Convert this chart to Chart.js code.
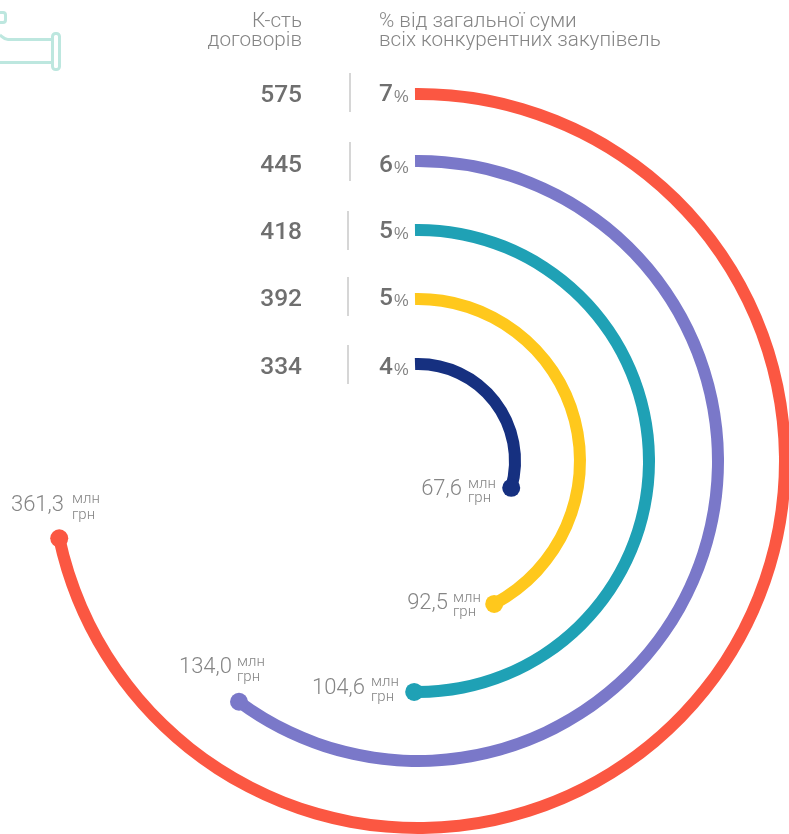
<!DOCTYPE html>
<html lang="uk"><head><meta charset="utf-8">
<script src="https://cdn.jsdelivr.net/npm/chart.js@4"></script>
<style>
html,body{margin:0;padding:0;background:#fff;overflow:hidden}
#wrap{position:relative;width:789px;height:834px;overflow:hidden}
canvas{position:absolute;left:0;top:0}
.t{position:absolute;white-space:nowrap;line-height:1;color:#858585;font-family:Roboto,"Liberation Sans",sans-serif;font-weight:300}
.b{font-weight:500;color:#6f6f6f}
.p{font-family:"Liberation Sans",sans-serif;font-weight:400;color:#858585}
.sep{position:absolute;width:2px;background:#d6d6d6}
svg{position:absolute;left:0;top:0}
</style></head><body>
<div id="wrap">
<svg width="70" height="80" fill="none" stroke="#bde7df" stroke-width="3">
<path d="M0 12.500H3a2.500 2.500 0 0 1 2.500 2.500V20A2.500 2.500 0 0 1 3 22.500H0"/>
<path d="M0 35C3 37 3.500 39.500 8 39.500H52M0 62.500H52"/>
<rect x="52.500" y="33.500" width="7" height="36" rx="3"/>
</svg>
<canvas id="c" width="800" height="834"></canvas>
</div>
<script>
const headerLeft = ["К-сть", "договорів"];
const headerRight = ["% від загальної суми", "всіх конкурентних закупівель"];
const contracts = [575, 445, 418, 392, 334];
const shares = [7, 6, 5, 5, 4];
const amounts = ["361,3", "134,0", "104,6", "92,5", "67,6"];
const sweepDegrees = [258.3, 217.2, 181.7, 153, 107.8];
const startDegrees = [-0.47, -0.57, -0.75, -1.06, -1.77];
const colors = ["#fb5742", "#7a78c9", "#1fa1b5", "#ffc81c", "#163080"];

const ringGaps = [55, 57, 57, 53];
const ringWidth = 12;
const rowBase = [103, 173, 240, 307, 375];
const pctBase = [102, 173, 239, 306, 375];
const seps = [[349,73],[349,142],[347,211],[347,277],[347,345]];
const amtPos = [[64,512,72,504,520],[232,674,237,667,682],[365,695,371,687,702],[448,610,453,603,617],[462,496,468,489,503]];

const wrap = document.getElementById("wrap");
function text(s, x, base, size, right, cls){
  const d = document.createElement("div");
  d.className = "t " + (cls || "");
  d.textContent = s;
  d.style.fontSize = size + "px";
  d.style.top = (base - 0.845 * size) + "px";
  if (right) d.style.right = (789 - x) + "px"; else d.style.left = x + "px";
  wrap.appendChild(d);
}
text(headerLeft[0], 302, 27, 20.7, true);
text(headerLeft[1], 302, 46, 20.7, true);
text(headerRight[0], 379, 27, 20.7, false);
text(headerRight[1], 379, 46, 20.7, false);
contracts.forEach((v, i) => {
  text(String(v), 302, rowBase[i], 24.5, true, "b");
  text(String(shares[i]), 379, pctBase[i], 24.5, false, "b");
  text("%", 394, pctBase[i], 16.5, false, "p");
  const s = document.createElement("div");
  s.className = "sep"; s.style.left = seps[i][0] + "px"; s.style.top = seps[i][1] + "px"; s.style.height = "39px";
  wrap.appendChild(s);
});
amounts.forEach((v, i) => {
  const p = amtPos[i];
  text(v, p[0], p[1], 22, true);
  text("млн", p[2], p[3], 15, false);
  text("грн", p[2], p[4], 15, false);
});

const datasets = [];
sweepDegrees.forEach((deg, i) => {
  datasets.push({ data: [deg, 360 - deg], rotation: startDegrees[i], backgroundColor: [colors[i], "rgba(0,0,0,0)"], borderWidth: 0, weight: ringWidth });
  if (i < ringGaps.length) datasets.push({ data: [1], backgroundColor: ["rgba(0,0,0,0)"], borderWidth: 0, weight: ringGaps[i] });
});

const endDots = {
  id: "endDots",
  afterDatasetsDraw(chart) {
    const ctx = chart.ctx;
    sweepDegrees.forEach((deg, i) => {
      const arc = chart.getDatasetMeta(i * 2).data[0];
      const r = (arc.innerRadius + arc.outerRadius) / 2;
      ctx.beginPath();
      ctx.arc(arc.x + r * Math.cos(arc.endAngle), arc.y + r * Math.sin(arc.endAngle), 9, 0, Math.PI * 2);
      ctx.fillStyle = colors[i];
      ctx.fill();
    });
  }
};

new Chart(document.getElementById("c"), {
  type: "doughnut",
  data: { labels: ["сума", ""], datasets },
  options: {
    responsive: false, animation: false, cutout: 91,
    layout: { padding: { left: 45, right: 9, top: 88, bottom: 0 } },
    plugins: { legend: { display: false }, tooltip: { enabled: false } }
  },
  plugins: [endDots]
});
</script>
</body></html>
